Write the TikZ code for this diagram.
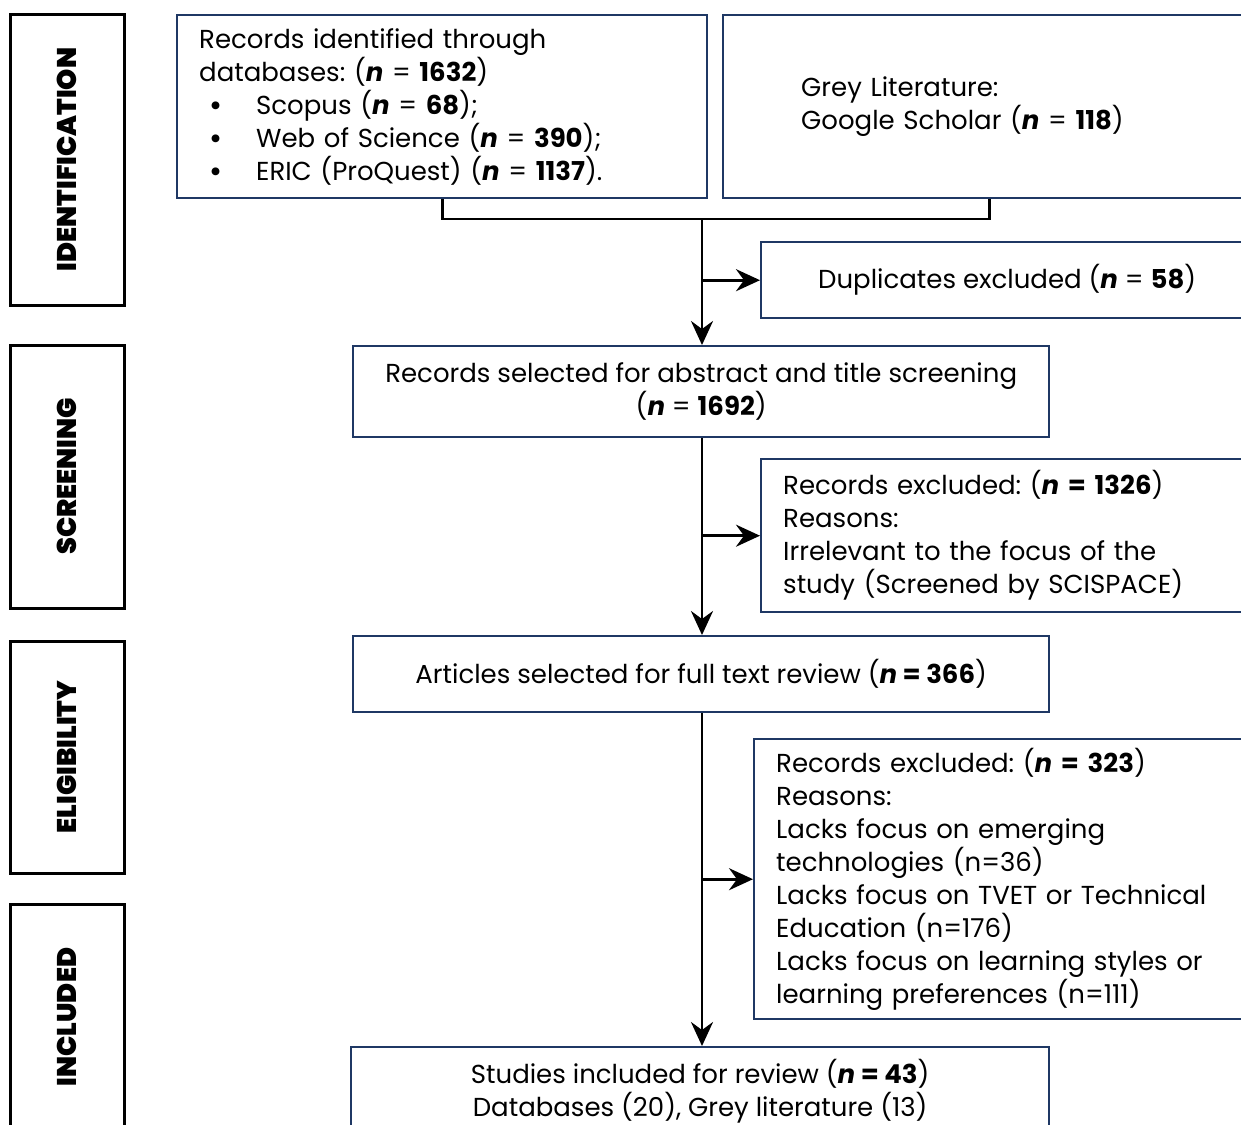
\documentclass[tikz,border=0pt]{standalone}
\usepackage{fontspec}
\setmainfont{Poppins}
\newfontfamily\stagefont{Poppins Black}
\frenchspacing
\usetikzlibrary{arrows.meta}
\definecolor{boxblue}{HTML}{1F3864}
\newcommand{\enn}{\textbf{\textit{n}}}
\newcommand{\bul}{\hspace*{5pt}\makebox[23.5pt][l]{\textbf{\textbullet}}}

\begin{document}
\begin{tikzpicture}[x=0.5pt, y=-0.5pt,
    stagebox/.style={draw=black, line width=1.5pt, rotate=90, minimum height=57pt,
        inner sep=0pt, font=\fontsize{13.5}{15}\stagefont},
    flowbox/.style={draw=boxblue, line width=1.2pt, inner sep=0pt, anchor=north west,
        font=\fontsize{13}{16.5}\selectfont},
    link/.style={line width=1.4pt},
    arr/.style={link, -{Stealth[length=12pt, width=11pt, inset=4pt]}},
    ]
\useasboundingbox (0,0) rectangle (1241,1124);
\clip (0,0) rectangle (1241,1124);

\node[stagebox, minimum width=145.5pt] (ident) at (67,159.5) {IDENTIFICATION};
\node[stagebox, minimum width=131.5pt] (screen) at (67,476.5) {SCREENING};
\node[stagebox, minimum width=116pt] (elig) at (67,757) {ELIGIBILITY};
\node[stagebox, minimum width=113pt] (incl) at (67,1017) {INCLUDED};

\node[flowbox, minimum width=265pt, minimum height=91.5pt, text width=243pt, align=left]
    (db) at (176,14) {Records identified through\\
    databases: (\enn{} = \textbf{1632})\\
    \bul Scopus (\enn{} = \textbf{68});\\
    \bul Web of Science (\enn{} = \textbf{390});\\
    \bul ERIC (ProQuest) (\enn{} = \textbf{1137}).};
\node[flowbox, minimum width=266pt, minimum height=91.5pt, text width=188pt, align=left]
    (grey) at (722,14) {Grey Literature:\\ Google Scholar (\enn{} = \textbf{118})};
\node[flowbox, minimum width=246pt, minimum height=38pt, align=center]
    (dup) at (760,241) {Duplicates excluded (\enn{} = \textbf{58})};
\node[flowbox, minimum width=348pt, minimum height=45.5pt, align=center]
    (sel) at (352,345) {Records selected for abstract and title screening\\ (\enn{} = \textbf{1692})};
\node[flowbox, minimum width=246pt, minimum height=76.5pt, text width=224pt, align=left]
    (exa) at (760,458) {Records excluded: (\textbf{\textit{n} = 1326})\\ Reasons:\\
    Irrelevant to the focus of the\\ study (Screened by SCISPACE)};
\node[flowbox, minimum width=348pt, minimum height=38pt, align=center]
    (full) at (352,635) {Articles selected for full text review (\textbf{\textit{n} = 366})};
\node[flowbox, minimum width=249.5pt, minimum height=140pt, text width=227.5pt, align=left]
    (exb) at (753,738) {Records excluded: (\textbf{\textit{n} = 323})\\ Reasons:\\
    Lacks focus on emerging\\ technologies (n=36)\\
    Lacks focus on TVET or Technical\\ Education (n=176)\\
    Lacks focus on learning styles or\\ learning preferences (n=111)};
\node[flowbox, minimum width=349pt, minimum height=44pt, align=center]
    (inc) at (350,1046) {Studies included for review (\textbf{\textit{n} = 43})\\
    Databases (20), Grey literature (13)};

\coordinate (j) at (702,219);
\draw[link] (db.south) |- (j) -| (grey.south);
\draw[arr] (j) -- (j |- sel.north);
\draw[arr] (j |- dup.west) -- (dup.west);
\draw[arr] (j |- sel.south) -- (j |- full.north);
\draw[arr] (j |- exa.west) -- (exa.west);
\draw[arr] (j |- full.south) -- (j |- inc.north);
\draw[arr] (j |- exb.west) -- (exb.west);
\end{tikzpicture}
\end{document}
